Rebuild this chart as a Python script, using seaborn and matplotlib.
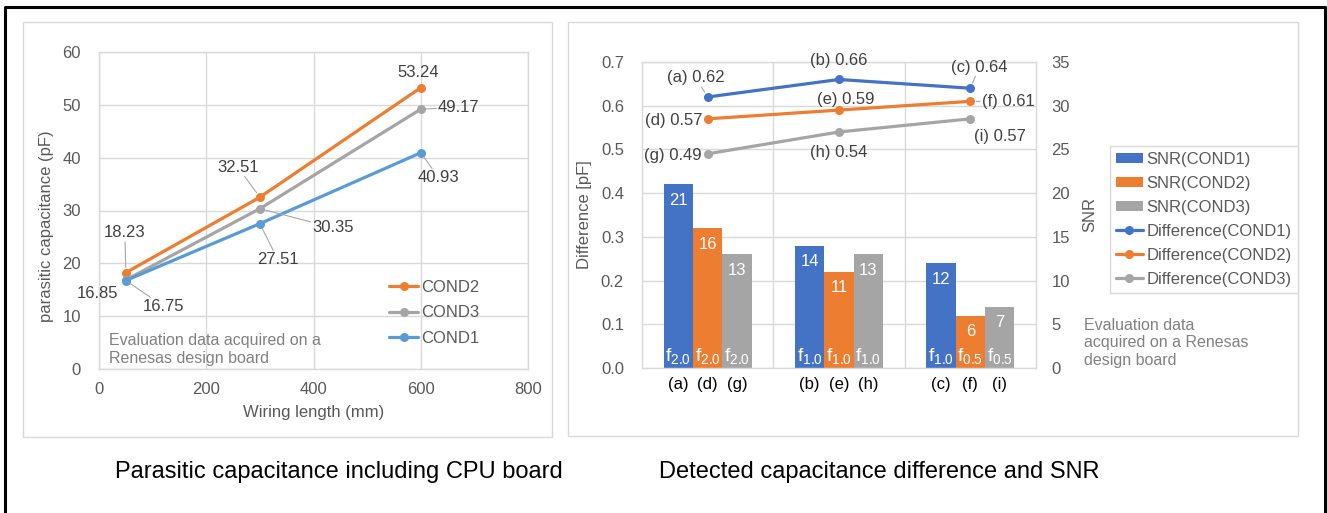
import matplotlib.pyplot as plt
from matplotlib.lines import Line2D
from matplotlib.patches import Rectangle
import seaborn as sns
import pandas as pd
import numpy as np

sns.set_theme(style="white")
plt.rcParams['font.family'] = ['Liberation Sans', 'DejaVu Sans']

# ---- data: left chart (parasitic capacitance)
wiring_mm = [50, 300, 600]
cap_cond2 = [18.23, 32.51, 53.24]
cap_cond3 = [16.85, 30.35, 49.17]
cap_cond1 = [16.75, 27.51, 40.93]

# ---- data: right chart (difference + SNR)
groups = ["G1", "G2", "G3"]
snr_cond1 = [21, 14, 12]
snr_cond2 = [16, 11, 6]
snr_cond3 = [13, 13, 7]
diff_cond1 = [0.62, 0.66, 0.64]
diff_cond2 = [0.57, 0.59, 0.61]
diff_cond3 = [0.49, 0.54, 0.57]
tags_cond1 = ["(a)", "(b)", "(c)"]
tags_cond2 = ["(d)", "(e)", "(f)"]
tags_cond3 = ["(g)", "(h)", "(i)"]
freq_cond1 = ["2.0", "1.0", "1.0"]
freq_cond2 = ["2.0", "1.0", "0.5"]
freq_cond3 = ["2.0", "1.0", "0.5"]

W, H = 1327, 513
GRID = "#d9d9d9"
TXT = "#595959"
LBL = "#404040"
NOTE = "#808080"
ORANGE, GRAY = "#ED7D31", "#A5A5A5"
BLUE_L, BLUE_R = "#5B9BD5", "#4472C4"

fig = plt.figure(figsize=(W / 100, H / 100), dpi=100)


def fx(x):
    return x / W


def fy(y):
    return 1 - y / H


# outer frame (left, top, right) and the two light chart boxes
fig.add_artist(Line2D([fx(4.5), fx(4.5), fx(1325), fx(1325)],
                      [fy(515), fy(7), fy(7), fy(515)], color="black", lw=2.2))
fig.add_artist(Rectangle((fx(23), fy(437)), 529 / W, 415 / H, fill=False, ec=GRID, lw=1))
fig.add_artist(Rectangle((fx(568), fy(436)), 730 / W, 414 / H, fill=False, ec=GRID, lw=1))

# ================= left chart =================
axL = fig.add_axes([fx(99), fy(369), 429 / W, 317 / H])
df_cap = pd.DataFrame({
    "length": wiring_mm * 3,
    "cap": cap_cond2 + cap_cond3 + cap_cond1,
    "cond": ["COND2"] * 3 + ["COND3"] * 3 + ["COND1"] * 3,
})
cond_order = ["COND2", "COND3", "COND1"]
sns.lineplot(data=df_cap, x="length", y="cap", hue="cond", hue_order=cond_order,
             palette=[ORANGE, GRAY, BLUE_L], marker="o", markersize=6.5,
             markeredgewidth=0, linewidth=2.3, legend=False, ax=axL)

axL.set_xlim(0, 800)
axL.set_ylim(0, 60)
axL.set_xticks(range(0, 801, 200))
axL.set_yticks(range(0, 61, 10))
axL.grid(True, color=GRID, lw=1)
axL.set_axisbelow(True)
for s in axL.spines.values():
    s.set_color(GRID)
    s.set_linewidth(1)
axL.tick_params(length=0, labelsize=12, labelcolor=TXT)
axL.tick_params(axis="y", pad=13)
axL.tick_params(axis="x", pad=9)
axL.set_xlabel("Wiring length (mm)", fontsize=12, color=TXT)
axL.set_ylabel("parasitic capacitance (pF)", fontsize=12, color=TXT)
axL.xaxis.set_label_coords(0.5, -0.113)
axL.yaxis.set_label_coords(-0.106, 0.45)

# data labels (offsets in pixels, leader line yes/no)
cap_series = {"COND2": cap_cond2, "COND3": cap_cond3, "COND1": cap_cond1}
cap_offsets = {
    "COND2": [(-1, 40, True), (-22, 30, True), (-3, 15, False)],
    "COND3": [(-28, -14, False), (73, -19, True), (38, 2, True)],
    "COND1": [(38, -26, True), (18, -36, True), (18, -25, True)],
}
for cond in cond_order:
    for x, v, (dx, dy, lead) in zip(wiring_mm, cap_series[cond], cap_offsets[cond]):
        axL.annotate(f"{v:.2f}", (x, v), xytext=(dx, dy), textcoords="offset pixels",
                     ha="center", va="center", fontsize=12, color=LBL,
                     bbox=dict(boxstyle="square,pad=0.1", fc="none", ec="none"),
                     arrowprops=dict(arrowstyle="-", color="#a6a6a6", lw=0.8,
                                     shrinkA=0, shrinkB=4) if lead else None)

legL = axL.legend(axL.lines[:3], cond_order, loc="center left", bbox_to_anchor=(0.676, 0.177),
                  frameon=False, fontsize=12, labelcolor=TXT, borderpad=0, borderaxespad=0,
                  handlelength=1.75, handletextpad=0.2, labelspacing=0.62)

fig.text(fx(109), fy(349.5), "Evaluation data acquired on a\nRenesas design board",
         ha="left", va="center", fontsize=11.5, color=NOTE, linespacing=1.25)

# ================= right chart =================
axD = fig.add_axes([fx(642), fy(368), 394 / W, 306 / H])
axS = axD.twinx()

df_snr = pd.DataFrame({
    "group": groups * 3,
    "snr": snr_cond1 + snr_cond2 + snr_cond3,
    "cond": ["SNR(COND1)"] * 3 + ["SNR(COND2)"] * 3 + ["SNR(COND3)"] * 3,
})
sns.barplot(data=df_snr, x="group", y="snr", hue="cond",
            palette=[BLUE_R, ORANGE, GRAY], saturation=1, width=0.67,
            linewidth=0, legend=False, ax=axS)

pos = np.arange(len(groups))
df_diff = pd.DataFrame({
    "pos": np.concatenate([pos, pos, pos]),
    "diff": diff_cond1 + diff_cond2 + diff_cond3,
    "cond": ["Difference(COND1)"] * 3 + ["Difference(COND2)"] * 3 + ["Difference(COND3)"] * 3,
})
sns.lineplot(data=df_diff, x="pos", y="diff", hue="cond",
             palette=[BLUE_R, ORANGE, GRAY], marker="o", markersize=6.5,
             markeredgewidth=0, linewidth=2.3, legend=False, ax=axD)

axD.set_zorder(axS.get_zorder() + 1)
axD.patch.set_visible(False)

axD.set_xlim(-0.5, 2.5)
axD.set_ylim(0, 0.7)
axS.set_ylim(0, 35)
d_ticks = np.arange(0, 0.71, 0.1)
axD.set_yticks(d_ticks, [f"{t:.1f}" for t in d_ticks])
axS.set_yticks(range(0, 36, 5))
axS.grid(axis="y", color=GRID, lw=1)
axD.grid(False)
axS.set_axisbelow(True)
for xb in [0.5, 1.5]:
    axS.axvline(xb, color=GRID, lw=1, zorder=0)
for s in axS.spines.values():
    s.set_color(GRID)
    s.set_linewidth(1)
for s in axD.spines.values():
    s.set_visible(False)

# category tick labels under every bar
bar_tags = [tags_cond1, tags_cond2, tags_cond3]
centers, tick_labels = [], []
for cont, tags in zip(axS.containers, bar_tags):
    for bar, tag in zip(cont, tags):
        centers.append(bar.get_x() + bar.get_width() / 2)
        tick_labels.append(tag)
axD.set_xticks(centers, tick_labels)
axD.tick_params(axis="x", length=0, labelsize=12, labelcolor="black", pad=6.5)
axD.tick_params(axis="y", length=0, labelsize=12, labelcolor=TXT, pad=13)
axS.tick_params(axis="y", length=0, labelsize=12, labelcolor=TXT, pad=11)
axD.set_xlabel("")
axD.set_ylabel("Difference [pF]", fontsize=12, color=TXT)
axS.set_ylabel("SNR", fontsize=12, color=TXT)
axD.yaxis.set_label_coords(-0.127, 0.5)
axS.yaxis.set_label_coords(1.118, 0.5)

# SNR values and f labels inside bars
snr_vals = [snr_cond1, snr_cond2, snr_cond3]
freqs = [freq_cond1, freq_cond2, freq_cond3]
for cont, vals, fr in zip(axS.containers, snr_vals, freqs):
    for bar, v, f in zip(cont, vals, fr):
        cx = bar.get_x() + bar.get_width() / 2
        axS.annotate(str(v), (cx, bar.get_height()), xytext=(0, -16), textcoords="offset pixels",
                     ha="center", va="center", fontsize=12, color="white")
        axS.annotate(rf"$\mathregular{{f_{{{f}}}}}$", (cx, 0), xytext=(0, 2),
                     textcoords="offset pixels", ha="center", va="bottom",
                     fontsize=14, color="white")

# difference labels
diff_series = [diff_cond1, diff_cond2, diff_cond3]
diff_offsets = [
    [(-12, 19, True), (0, 19, False), (9, 21, True)],
    [(-34, -2, False), (7, 11, False), (38, 0, True)],
    [(-35, -2, False), (0, -21, False), (30, -18, False)],
]
for vals, tags, offs in zip(diff_series, bar_tags, diff_offsets):
    for p, v, tag, (dx, dy, lead) in zip(pos, vals, tags, offs):
        axD.annotate(f"{tag} {v:.2f}", (p, v), xytext=(dx, dy), textcoords="offset pixels",
                     ha="center", va="center", fontsize=12, color=LBL,
                     bbox=dict(boxstyle="square,pad=0.1", fc="none", ec="none"),
                     arrowprops=dict(arrowstyle="-", color="#a6a6a6", lw=0.8,
                                     shrinkA=0, shrinkB=4) if lead else None)

leg_labels = ["SNR(COND1)", "SNR(COND2)", "SNR(COND3)",
              "Difference(COND1)", "Difference(COND2)", "Difference(COND3)"]
legR = axD.legend(list(axS.containers) + axD.lines[:3], leg_labels,
                  loc="upper left", bbox_to_anchor=(fx(1110), fy(146)),
                  bbox_transform=fig.transFigure, frameon=True, fancybox=False,
                  edgecolor=GRID, framealpha=1, fontsize=12, labelcolor=TXT,
                  borderaxespad=0, borderpad=0.35, labelspacing=0.54,
                  handlelength=1.6, handleheight=0.55, handletextpad=0.25)
legR.get_frame().set_linewidth(1)

fig.text(fx(1084), fy(343), "Evaluation data\nacquired on a Renesas\ndesign board",
         ha="left", va="center", fontsize=11.5, color=NOTE, linespacing=1.25)

# captions
fig.text(fx(339), fy(472), "Parasitic capacitance including CPU board",
         ha="center", va="center", fontsize=17, color="black")
fig.text(fx(879), fy(472), "Detected capacitance difference and SNR",
         ha="center", va="center", fontsize=17, color="black")

fig.savefig("out.png", dpi=100)
